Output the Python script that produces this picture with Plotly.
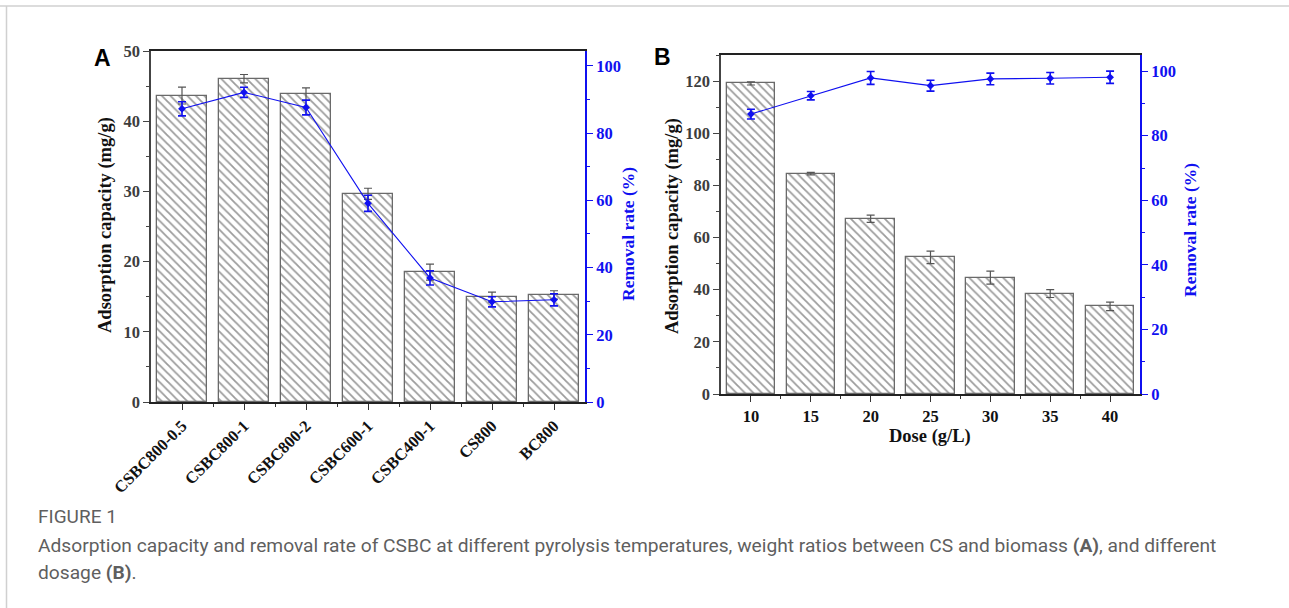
import plotly.graph_objects as go

# ---------------- data ----------------
cats_a = ["CSBC800-0.5", "CSBC800-1", "CSBC800-2", "CSBC600-1", "CSBC400-1", "CS800", "BC800"]
cap_a = [43.65, 46.05, 43.85, 29.65, 18.5, 14.95, 15.25]
cap_a_err = [1.2, 0.6, 0.9, 0.8, 1.15, 0.7, 0.6]
rate_a = [87.2, 92.1, 87.6, 59.1, 36.9, 29.8, 30.4]
rate_a_err = [2.1, 1.5, 2.2, 2.4, 2.1, 1.5, 1.8]

dose_b = [10, 15, 20, 25, 30, 35, 40]
cap_b = [119.1, 84.5, 67.2, 52.4, 44.6, 38.5, 33.6]
cap_b_err = [0.6, 0.5, 1.4, 2.4, 2.5, 1.5, 1.6]
rate_b = [86.7, 92.4, 97.9, 95.5, 97.6, 97.8, 98.1]
rate_b_err = [1.5, 1.3, 2.0, 1.7, 1.8, 1.8, 1.9]

W, H = 1289, 608
def px(x): return x / W
def py(y): return 1 - y / H

SERIF = "Liberation Serif, Times New Roman, serif"
GRAY = "#3d3d3d"
BLUE = "#1010f0"

bar_style = dict(
    marker=dict(color="white",
                line=dict(color="#6a6a6a", width=1.3),
                pattern=dict(shape="\\", size=6, solidity=0.3,
                             fgcolor="#3a3a3a", bgcolor="white")),
    showlegend=False,
)

fig = go.Figure()

# Panel A
fig.add_trace(go.Bar(x=list(range(len(cats_a))), y=cap_a, width=0.8,
                     error_y=dict(type="data", array=cap_a_err, color="#555555",
                                  thickness=1.2, width=4),
                     xaxis="x", yaxis="y", **bar_style))
fig.add_trace(go.Scatter(x=list(range(len(cats_a))), y=rate_a, mode="lines+markers",
                         line=dict(color=BLUE, width=1.1),
                         marker=dict(color=BLUE, size=6, symbol="diamond"),
                         error_y=dict(type="data", array=rate_a_err, color=BLUE,
                                      thickness=1.6, width=4),
                         xaxis="x", yaxis="y2", showlegend=False))

# Panel B
fig.add_trace(go.Bar(x=dose_b, y=cap_b, width=4.05,
                     error_y=dict(type="data", array=cap_b_err, color="#555555",
                                  thickness=1.2, width=4),
                     xaxis="x2", yaxis="y3", **bar_style))
fig.add_trace(go.Scatter(x=dose_b, y=rate_b, mode="lines+markers",
                         line=dict(color=BLUE, width=1.1),
                         marker=dict(color=BLUE, size=6, symbol="diamond"),
                         error_y=dict(type="data", array=rate_b_err, color=BLUE,
                                      thickness=1.6, width=4),
                         xaxis="x2", yaxis="y4", showlegend=False))

tickfont_gray = dict(family=SERIF, size=16.5, color=GRAY, weight="bold")
tickfont_blue = dict(family=SERIF, size=16.5, color=BLUE, weight="bold")
titlefont_black = dict(family=SERIF, size=18.5, color="#111111", weight="bold")
titlefont_blue = dict(family=SERIF, size=17.5, color=BLUE, weight="bold")
catfont = dict(family=SERIF, size=16.5, color="#111111", weight="bold")

dom_a_x = [px(151), px(585)]
dom_a_y = [py(402), py(51)]
dom_b_x = [px(721), px(1140)]
dom_b_y = [py(394), py(55)]

common = dict(showgrid=False, zeroline=False, automargin=False, fixedrange=True)

fig.update_layout(
    width=W, height=H,
    margin=dict(l=0, r=0, t=0, b=0, pad=0),
    paper_bgcolor="white", plot_bgcolor="white",
    bargap=0,
    xaxis=dict(domain=dom_a_x, anchor="y", range=[-0.5, 6.5],
               tickmode="array", tickvals=list(range(len(cats_a))), ticktext=cats_a,
               tickangle=-45, tickfont=catfont,
               showline=True, linecolor="#222222", linewidth=1.5, mirror=True,
               ticks="outside", ticklen=6, tickwidth=1.3, tickcolor="#333333",
               minor=dict(ticks="outside", ticklen=3, tickwidth=1.2, tickcolor="#333333",
                          tickmode="array", tickvals=[0.5, 1.5, 2.5, 3.5, 4.5, 5.5]),
               **common),
    yaxis=dict(domain=dom_a_y, anchor="x", range=[0, 50], dtick=10,
               tickfont=tickfont_gray,
               showline=True, linecolor="#444444", linewidth=1.5,
               ticks="outside", ticklen=6, tickwidth=1.3, tickcolor="#444444",
               minor=dict(ticks="outside", ticklen=3, tickwidth=1.2, tickcolor="#444444", dtick=5),
               **common),
    yaxis2=dict(overlaying="y", side="right", anchor="x", range=[0, 104.4], dtick=20,
                tickfont=tickfont_blue,
                showline=True, linecolor=BLUE, linewidth=1.8,
                ticks="outside", ticklen=6, tickwidth=1.3, tickcolor=BLUE,
                minor=dict(ticks="outside", ticklen=3, tickwidth=1.2, tickcolor=BLUE, dtick=10),
                **common),
    xaxis2=dict(domain=dom_b_x, anchor="y3", range=[7.5, 42.5],
                tickmode="array", tickvals=dose_b,
                tickfont=catfont,
                showline=True, linecolor="#222222", linewidth=1.5, mirror=True,
                ticks="outside", ticklen=6, tickwidth=1.3, tickcolor="#333333",
                minor=dict(ticks="outside", ticklen=3, tickwidth=1.2, tickcolor="#333333",
                           tickmode="array", tickvals=[12.5, 17.5, 22.5, 27.5, 32.5, 37.5]),
                **common),
    yaxis3=dict(domain=dom_b_y, anchor="x2", range=[0, 130], dtick=20,
                tickfont=tickfont_gray,
                showline=True, linecolor="#444444", linewidth=1.5,
                ticks="outside", ticklen=6, tickwidth=1.3, tickcolor="#444444",
                minor=dict(ticks="outside", ticklen=3, tickwidth=1.2, tickcolor="#444444", dtick=10),
                **common),
    yaxis4=dict(overlaying="y3", side="right", anchor="x2", range=[0, 105], dtick=20,
                tickfont=tickfont_blue,
                showline=True, linecolor=BLUE, linewidth=1.8,
                ticks="outside", ticklen=6, tickwidth=1.3, tickcolor=BLUE,
                minor=dict(ticks="outside", ticklen=3, tickwidth=1.2, tickcolor=BLUE, dtick=10),
                **common),
)

def note(x, y, text, font, angle=0, xanchor="center", yanchor="middle"):
    fig.add_annotation(x=px(x), y=py(y), xref="paper", yref="paper", text=text,
                       showarrow=False, xanchor=xanchor, yanchor=yanchor,
                       textangle=angle, font=font)

# axis titles
note(105, 225, "Adsorption capacity (mg/g)", titlefont_black, angle=-90)
note(628, 234, "Removal rate (%)", titlefont_blue, angle=-90)
note(672, 226, "Adsorption capacity (mg/g)", titlefont_black, angle=-90)
note(1190, 230, "Removal rate (%)", titlefont_blue, angle=-90)
note(930, 436, "Dose (g/L)", titlefont_black)

# panel letters
LET = dict(family="Liberation Sans, Arial, sans-serif", size=23, color="black")
note(92, 58, "<b>A</b>", LET, xanchor="left")
note(652, 57, "<b>B</b>", LET, xanchor="left")

# caption
CAP_FONT = "Roboto, Liberation Sans, sans-serif"
CAP_COLOR = "#5f5f5f"
note(36, 516, "FIGURE 1", dict(family=CAP_FONT, size=19, color=CAP_COLOR), xanchor="left")
note(36, 545, "Adsorption capacity and removal rate of CSBC at different pyrolysis temperatures, "
              "weight ratios between CS and biomass <b>(A)</b>, and different",
     dict(family=CAP_FONT, size=19.2, color=CAP_COLOR), xanchor="left")
note(36, 572, "dosage <b>(B)</b>.", dict(family=CAP_FONT, size=19.2, color=CAP_COLOR), xanchor="left")

# page border lines
fig.add_shape(type="line", xref="paper", yref="paper", x0=0, x1=1, y0=py(6), y1=py(6),
              line=dict(color="#d0d0d0", width=1.5))
fig.add_shape(type="line", xref="paper", yref="paper", x0=px(6.5), x1=px(6.5), y0=py(6), y1=0,
              line=dict(color="#d0d0d0", width=1.5))

fig.write_html("out.html", post_script="document.body.style.margin='0';")
